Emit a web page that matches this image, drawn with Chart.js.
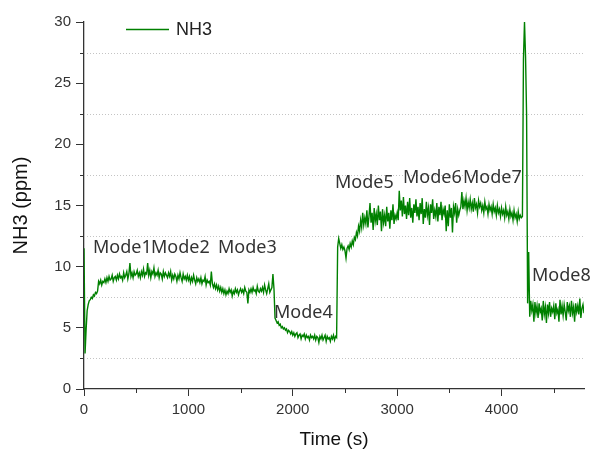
<!DOCTYPE html>
<html lang="en">
<head>
<meta charset="UTF-8">
<title>NH3 by mode</title>
<script src="https://cdn.jsdelivr.net/npm/chart.js"></script>
<style>
  body { margin: 0; background: #fff; }
  .chart-box { width: 590px; height: 451px; }
</style>
</head>
<body>
<div class="chart-box"><canvas id="nh3Chart"></canvas></div>
<script>
// NH3 samples, one every SAMPLE_STEP seconds starting at t = 0
const SAMPLE_STEP = 10;
const nh3 = [
  11.5, 2.9, 4.8, 6.4, 6.9, 7.2, 7.3, 7.5, 7.4, 7.7,
  7.6, 7.9, 7.8, 8.0, 8.8, 8.6, 8.9, 8.5, 8.8, 8.7,
  9.0, 8.7, 9.1, 8.8, 9.2, 8.9, 9.0, 9.3, 8.8, 9.1,
  9.2, 8.9, 9.3, 9.0, 9.4, 9.1, 9.2, 8.9, 9.5, 9.1,
  9.3, 9.6, 9.0, 9.4, 10.3, 9.2, 9.5, 9.1, 9.6, 9.3,
  9.4, 9.7, 9.2, 9.5, 9.1, 9.6, 9.3, 9.8, 9.2, 9.5,
  9.4, 10.3, 9.3, 9.7, 9.1, 9.6, 9.4, 9.9, 9.2, 9.5,
  9.3, 9.7, 9.1, 9.5, 9.4, 9.0, 9.6, 9.2, 9.5, 9.3,
  9.1, 9.5, 9.2, 9.6, 8.9, 9.3, 9.0, 9.4, 9.2, 8.8,
  9.3, 9.0, 9.5, 9.1, 8.8, 9.4, 9.0, 9.2, 8.9, 9.3,
  8.9, 9.2, 8.7, 9.1, 8.8, 9.3, 8.9, 8.6, 9.1, 8.8,
  9.0, 8.7, 9.1, 8.6, 8.9, 8.8, 9.2, 8.5, 8.9, 8.7,
  8.8, 8.5, 9.6, 8.6, 8.3, 8.6, 8.2, 8.5, 8.1, 8.4,
  8.0, 8.3, 7.9, 8.2, 7.8, 8.1, 7.7, 8.0, 7.8, 8.2,
  7.9, 8.1, 7.6, 8.0, 7.8, 8.2, 7.9, 8.1, 7.7, 8.0,
  8.2, 7.9, 8.1, 7.8, 8.3, 8.0, 7.9, 7.0, 8.1, 7.9,
  8.2, 7.9, 8.3, 8.0, 8.1, 7.8, 8.4, 8.0, 7.9, 8.2,
  8.0, 8.3, 7.9, 8.5, 8.1, 7.8, 8.2, 8.6, 7.9, 8.1,
  8.3, 9.4, 8.2, 5.8, 5.6, 5.4, 5.5, 5.2, 5.3, 5.0,
  5.1, 4.9, 5.0, 4.8, 4.9, 4.6, 4.8, 4.7, 4.5, 4.7,
  4.4, 4.6, 4.3, 4.5, 4.6, 4.2, 4.4, 4.5, 4.1, 4.4,
  4.3, 4.5, 4.1, 4.4, 4.2, 4.3, 4.0, 4.4, 4.2, 4.3,
  4.1, 4.4, 4.0, 4.3, 4.2, 3.8, 4.3, 4.1, 4.4, 4.0,
  4.2, 4.4, 3.9, 4.3, 4.1, 4.2, 3.9, 4.3, 4.1, 4.4,
  4.0, 4.3, 4.2, 11.6, 12.3, 11.9, 11.5, 11.8, 11.4, 11.6,
  11.3, 10.7, 11.5, 11.7, 11.4, 11.9, 11.6, 12.1, 11.8, 12.4,
  12.2, 12.8, 12.5, 13.3, 12.9, 13.8, 13.2, 14.4, 13.4, 14.0,
  13.5, 14.6, 13.2, 14.1, 15.2, 13.6, 14.4, 13.0, 14.8, 13.7,
  14.3, 13.4, 15.0, 13.8, 14.5, 12.9, 14.7, 13.6, 14.2, 13.3,
  14.9, 13.7, 14.4, 13.1, 14.6, 13.8, 15.1, 13.5, 14.2, 13.9,
  14.4, 13.8, 16.2, 14.6, 15.4, 14.1, 15.7, 14.3, 15.0, 13.9,
  15.3, 14.2, 15.6, 14.0, 14.8, 13.6, 15.1, 14.4, 15.5, 14.1,
  14.9, 13.8, 15.2, 14.3, 15.6, 13.5, 14.7, 14.0, 15.3, 14.2,
  14.8, 13.4, 15.1, 14.4, 15.5, 13.9, 14.6, 14.1, 15.2, 13.7,
  14.9, 14.2, 15.3, 13.8, 14.7, 14.3, 15.0, 12.9, 14.6, 13.3,
  15.1, 14.0, 14.8, 12.8, 14.9, 14.4, 15.2, 13.6, 14.7, 14.2,
  14.6, 14.9, 16.1, 14.7, 15.4, 14.9, 15.6, 14.6, 15.3, 14.8,
  15.5, 14.7, 15.2, 14.5, 15.6, 14.8, 15.1, 14.4, 15.4, 14.9,
  15.2, 14.6, 15.0, 14.4, 15.3, 14.7, 14.9, 14.3, 15.1, 14.6,
  14.9, 14.3, 15.1, 14.5, 14.8, 14.2, 15.0, 14.4, 14.7, 14.1,
  14.8, 14.3, 14.6, 14.0, 14.9, 14.2, 14.5, 13.9, 14.7, 14.1,
  14.4, 13.8, 14.6, 14.0, 14.3, 13.7, 14.5, 13.9, 14.2, 14.0,
  14.1, 27.0, 30.0, 27.2, 22.4, 7.0, 11.2, 5.9, 7.2, 6.4,
  6.9, 5.5, 7.1, 6.2, 6.8, 5.8, 7.0, 6.3, 6.6, 5.6,
  7.2, 6.1, 6.7, 5.4, 6.9, 6.2, 7.1, 5.9, 6.6, 6.3,
  6.8, 5.7, 7.0, 6.2, 6.5, 5.5, 7.3, 6.1, 6.8, 6.0,
  6.9, 6.3, 5.6, 7.1, 6.4, 6.8, 5.9, 7.2, 6.2, 6.7,
  5.5, 7.0, 6.3, 6.8, 6.1, 7.4, 5.8, 6.6, 6.9, 6.2
];

// text annotations: left edge time (s) and baseline level (ppm)
const modeNames  = ['Mode1', 'Mode2', 'Mode3', 'Mode4', 'Mode5', 'Mode6', 'Mode7', 'Mode8'];
const modeTimes  = [86, 642, 1284, 1820, 2405, 3056, 3631, 4292];
const modeLevels = [11.1, 11.1, 11.1, 5.8, 16.4, 16.8, 16.8, 8.8];

const xMajorTicks = [0, 1000, 2000, 3000, 4000];
const xMinorTicks = [500, 1500, 2500, 3500, 4500];
const yMinorTicks = [2.5, 7.5, 12.5, 17.5, 22.5, 27.5];

const AXIS_COLOR = '#333';
const LINE_COLOR = '#008000';

const decorations = {
  id: 'decorations',
  beforeDatasetsDraw(chart) {
    const { ctx, chartArea, scales: { x, y } } = chart;
    ctx.save();
    // dotted lines at the minor y ticks
    ctx.strokeStyle = '#c4c4c4';
    ctx.lineWidth = 1;
    ctx.setLineDash([1, 2]);
    yMinorTicks.forEach(v => {
      const py = Math.round(y.getPixelForValue(v)) + 0.5;
      ctx.beginPath();
      ctx.moveTo(chartArea.left, py);
      ctx.lineTo(chartArea.right, py);
      ctx.stroke();
    });
    // short minor tick marks
    ctx.setLineDash([]);
    ctx.strokeStyle = AXIS_COLOR;
    yMinorTicks.forEach(v => {
      const py = Math.round(y.getPixelForValue(v)) + 0.5;
      ctx.beginPath();
      ctx.moveTo(chartArea.left - 4, py);
      ctx.lineTo(chartArea.left, py);
      ctx.stroke();
    });
    xMinorTicks.forEach(v => {
      const px = Math.round(x.getPixelForValue(v)) + 0.5;
      ctx.beginPath();
      ctx.moveTo(px, chartArea.bottom);
      ctx.lineTo(px, chartArea.bottom + 4);
      ctx.stroke();
    });
    ctx.restore();
  },
  afterDatasetsDraw(chart) {
    const { ctx, chartArea, scales: { x, y } } = chart;
    ctx.save();
    // mode labels
    ctx.fillStyle = '#333';
    ctx.font = '18px "Noto Sans"';
    ctx.textAlign = 'left';
    ctx.textBaseline = 'alphabetic';
    modeNames.forEach((name, i) => {
      ctx.fillText(name, x.getPixelForValue(modeTimes[i]), y.getPixelForValue(modeLevels[i]));
    });
    // legend
    const lx = chartArea.left + 42;
    const ly = chartArea.top + 7.5;
    ctx.strokeStyle = LINE_COLOR;
    ctx.lineWidth = 1.5;
    ctx.beginPath();
    ctx.moveTo(lx, ly);
    ctx.lineTo(lx + 43, ly);
    ctx.stroke();
    ctx.fillStyle = '#222';
    ctx.font = '18px "Liberation Sans"';
    ctx.textBaseline = 'middle';
    ctx.fillText('NH3', lx + 50, ly + 0.5);
    ctx.restore();
  }
};

const tickFont = { family: 'Liberation Sans', size: 15 };
const titleFont = { family: 'Liberation Sans', size: 19 };

new Chart(document.getElementById('nh3Chart'), {
  type: 'line',
  data: {
    datasets: [{
      label: 'NH3',
      data: nh3.map((v, i) => ({ x: i * SAMPLE_STEP, y: v })),
      borderColor: LINE_COLOR,
      borderWidth: 1.4,
      pointRadius: 0,
      tension: 0
    }]
  },
  options: {
    responsive: true,
    maintainAspectRatio: false,
    animation: false,
    layout: { padding: { top: 22, right: 6, left: 0, bottom: 0 } },
    plugins: {
      legend: { display: false },
      tooltip: { enabled: false }
    },
    scales: {
      x: {
        type: 'linear',
        min: 0,
        max: 4790,
        afterFit: s => { s.height = 62; },
        afterBuildTicks: s => { s.ticks = xMajorTicks.map(v => ({ value: v })); },
        ticks: { font: tickFont, color: '#333', padding: 5, maxRotation: 0, callback: v => String(v) },
        grid: { drawOnChartArea: false, tickLength: 7, tickColor: AXIS_COLOR },
        border: { color: AXIS_COLOR, width: 1.3 },
        title: { display: true, text: 'Time (s)', font: titleFont, color: '#111', padding: { top: 0, bottom: 0 } }
      },
      y: {
        min: 0,
        max: 30,
        afterFit: s => { s.width = 84; },
        ticks: { stepSize: 5, font: tickFont, color: '#333', padding: 5 },
        grid: { drawOnChartArea: false, tickLength: 8, tickColor: AXIS_COLOR },
        border: { color: AXIS_COLOR, width: 1.3 },
        title: { display: true, text: 'NH3 (ppm)', font: { family: 'Liberation Sans', size: 20 }, color: '#111', padding: { top: 9, bottom: 0 } }
      }
    }
  },
  plugins: [decorations]
});
</script>
</body>
</html>
